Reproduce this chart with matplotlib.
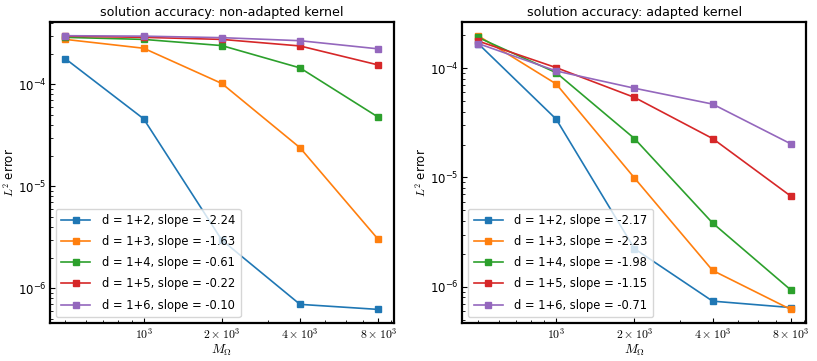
import matplotlib
matplotlib.use("Agg")
from matplotlib import pyplot as plt

plt.rcParams['mathtext.fontset'] = 'cm'

M = [500, 1000, 2000, 4000, 8000]
dims = ["1+2", "1+3", "1+4", "1+5", "1+6"]

# non-adapted kernel
err_plain = [
    [1.78e-4, 4.59e-5, 2.97e-6, 6.95e-7, 6.2e-7],
    [2.76e-4, 2.26e-4, 1.02e-4, 2.39e-5, 3.02e-6],
    [2.89e-4, 2.76e-4, 2.40e-4, 1.45e-4, 4.77e-5],
    [2.97e-4, 2.89e-4, 2.76e-4, 2.38e-4, 1.55e-4],
    [3.00e-4, 2.97e-4, 2.87e-4, 2.68e-4, 2.23e-4],
]
slopes_plain = ["-2.24", "-1.63", "-0.61", "-0.22", "-0.10"]

# adapted kernel
err_adapt = [
    [1.68e-4, 3.41e-5, 2.23e-6, 7.38e-7, 6.45e-7],
    [1.98e-4, 7.16e-5, 9.9e-6, 1.41e-6, 6.2e-7],
    [1.91e-4, 9.08e-5, 2.27e-5, 3.83e-6, 9.35e-7],
    [1.77e-4, 1.01e-4, 5.4e-5, 2.27e-5, 6.75e-6],
    [1.68e-4, 9.42e-5, 6.55e-5, 4.69e-5, 2.03e-5],
]
slopes_adapt = ["-2.17", "-2.23", "-1.98", "-1.15", "-0.71"]

xticks = [1000, 2000, 4000, 8000]
xticklabels = [r"$10^3$", r"$2\times10^3$", r"$4\times10^3$", r"$8\times10^3$"]


def draw(ax, errs, slopes, title):
    for d, e, s in zip(dims, errs, slopes):
        ax.plot(M, e, marker="s", ms=5, lw=1.2,
                label="d = %s, slope = %s" % (d, s))
    ax.set_xscale("log")
    ax.set_yscale("log")
    ax.set_xticks(xticks)
    ax.set_xticklabels(xticklabels)
    ax.set_title(title, fontsize=9.1, pad=4)
    ax.set_xlabel(r"$M_\Omega$", fontsize=9.5, labelpad=1)
    ax.set_ylabel(r"$L^2$ error", fontsize=8.5, labelpad=1)
    ax.tick_params(which="both", direction="in", labelsize=8.5, pad=2.5)
    for sp in ax.spines.values():
        sp.set_linewidth(1.6)
    ax.legend(loc="lower left", fontsize=8.3, handlelength=2.5,
              labelspacing=0.7, handletextpad=1.0, borderpad=0.5)


fig = plt.figure(figsize=(8.17, 3.61), dpi=100)
ax1 = fig.add_axes([0.061, 0.105, 0.421, 0.834])
ax2 = fig.add_axes([0.566, 0.105, 0.421, 0.834])
draw(ax1, err_plain, slopes_plain, "solution accuracy: non-adapted kernel")
draw(ax2, err_adapt, slopes_adapt, "solution accuracy: adapted kernel")

fig.savefig("out.png", dpi=100)
